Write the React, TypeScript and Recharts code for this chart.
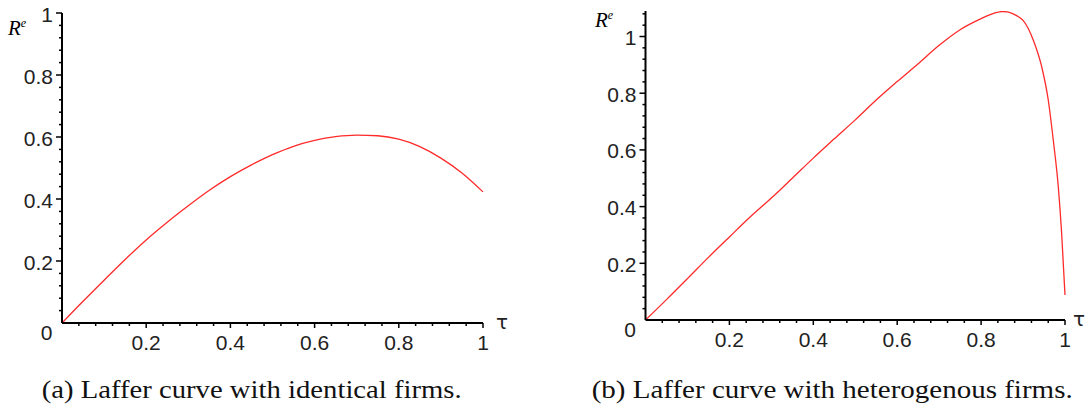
import React from "react";
import { LineChart, Line, XAxis, YAxis } from "recharts";

// ---- data ----
const tauA = [0, 0.05, 0.1, 0.15, 0.2, 0.25, 0.3, 0.35, 0.4, 0.45, 0.5, 0.55, 0.6, 0.65, 0.7, 0.75, 0.8, 0.85, 0.9, 0.95, 1];
const reA = [0, 0.07, 0.138, 0.205, 0.268, 0.325, 0.378, 0.428, 0.472, 0.51, 0.543, 0.57, 0.589, 0.601, 0.606, 0.604, 0.593, 0.569, 0.532, 0.484, 0.423];

const tauB = [0, 0.05, 0.1, 0.15, 0.2, 0.25, 0.3, 0.35, 0.4, 0.45, 0.5, 0.55, 0.6, 0.65, 0.7, 0.75, 0.8, 0.82, 0.835, 0.85, 0.862, 0.875, 0.89, 0.9, 0.925, 0.945, 0.96, 0.972, 0.984, 0.992, 1];
const reB = [0, 0.072, 0.146, 0.221, 0.293, 0.364, 0.43, 0.5, 0.571, 0.639, 0.706, 0.776, 0.841, 0.904, 0.969, 1.024, 1.063, 1.076, 1.084, 1.088, 1.087, 1.081, 1.069, 1.057, 0.985, 0.89, 0.777, 0.635, 0.47, 0.306, 0.088];

const xMajorTicks = [0.2, 0.4, 0.6, 0.8, 1];
const yMajorTicksA = [0.2, 0.4, 0.6, 0.8, 1];
const yMajorTicksB = [0.2, 0.4, 0.6, 0.8, 1];
const minorStep = 0.04;
const yMaxA = 1;
const yMaxB = 1.09;

const captionA = "(a) Laffer curve with identical firms.";
const captionB = "(b) Laffer curve with heterogenous firms.";
const yName = "R";
const ySup = "e";
const xName = "τ";
const originLabel = "0";

const dataA = tauA.map((t, i) => ({ tau: t, re: reA[i] }));
const dataB = tauB.map((t, i) => ({ tau: t, re: reB[i] }));

function buildTicks(max: number) {
  const n = Math.floor(max / minorStep + 1e-9);
  return Array.from({ length: n + 1 }, (_, i) => Math.round(i * minorStep * 1000) / 1000);
}

const isMajor = (v: number, majors: number[]) => majors.find((m) => Math.abs(m - v) < 1e-6);

const TICK_FONT = "'Liberation Sans', Arial, sans-serif";
const TICK_COLOR = "#222";
const TICK_SIZE = 21;

function makeXTick(majors: number[]) {
  return (props: any) => {
    const { x, y, payload } = props;
    const v = payload.value;
    const m = isMajor(v, majors);
    if (Math.abs(v) < 1e-9) {
      return (
        <text x={x - 15.5} y={y + 17} textAnchor="middle" fontFamily={TICK_FONT} fontSize={TICK_SIZE} fill={TICK_COLOR}>
          {originLabel}
        </text>
      );
    }
    return (
      <g>
        <line x1={x} y1={y} x2={x} y2={y + (m !== undefined ? 5 : 3)} stroke="#000" strokeWidth={1.5} />
        {m !== undefined && (
          <text x={x} y={y + 27} textAnchor="middle" fontFamily={TICK_FONT} fontSize={TICK_SIZE} fill={TICK_COLOR}>
            {String(m)}
          </text>
        )}
      </g>
    );
  };
}

function makeYTick(majors: number[]) {
  return (props: any) => {
    const { x, y, payload } = props;
    const v = payload.value;
    if (Math.abs(v) < 1e-9) return <g />;
    const m = isMajor(v, majors);
    return (
      <g>
        <line x1={x - (m !== undefined ? 6 : 3)} y1={y} x2={x} y2={y} stroke="#000" strokeWidth={1.5} />
        {m !== undefined && (
          <text x={x - 9} y={y + 8.5} textAnchor="end" fontFamily={TICK_FONT} fontSize={TICK_SIZE} fill={TICK_COLOR}>
            {String(m)}
          </text>
        )}
      </g>
    );
  };
}

function makeRLabel(dx: number, dy: number) {
  return (props: any) => {
    const vb = props.viewBox || {};
    const ax = (vb.x || 0) + (vb.width || 0);
    const ay = vb.y || 0;
    return (
      <text x={ax + dx} y={ay + dy} fontFamily="'Liberation Serif', 'Times New Roman', serif" fontStyle="italic" fontSize={21} fill="#000">
        {yName}
        <tspan fontSize={12} dy={-8}>{ySup}</tspan>
      </text>
    );
  };
}

function makeTauLabel(dx: number) {
  return (props: any) => {
    const vb = props.viewBox || {};
    const ax = (vb.x || 0) + (vb.width || 0);
    const ay = vb.y || 0;
    return (
      <text x={ax + dx} y={ay + 6} fontFamily="'DejaVu Sans', sans-serif" fontSize={20} fill={TICK_COLOR}>
        {xName}
      </text>
    );
  };
}

function Panel(props: {
  data: any[];
  width: number;
  height: number;
  margin: any;
  yMax: number;
  yMajors: number[];
  rdx: number;
  rdy: number;
  taudx: number;
}) {
  const { data, width, height, margin, yMax, yMajors, rdx, rdy, taudx } = props;
  return (
    <LineChart width={width} height={height} data={data} margin={margin}>
      <XAxis
        type="number"
        dataKey="tau"
        domain={[0, 1]}
        ticks={buildTicks(1)}
        interval={0}
        height={30}
        tickSize={0}
        tickMargin={0}
        tickLine={false}
        axisLine={{ stroke: "#000", strokeWidth: 2 }}
        tick={makeXTick(xMajorTicks)}
        allowDecimals
        label={{ content: makeTauLabel(taudx) }}
      />
      <YAxis
        type="number"
        domain={[0, yMax]}
        ticks={buildTicks(yMax)}
        interval={0}
        width={60}
        tickSize={0}
        tickMargin={0}
        tickLine={false}
        axisLine={{ stroke: "#000", strokeWidth: 2 }}
        tick={makeYTick(yMajors)}
        allowDataOverflow
        label={{ content: makeRLabel(rdx, rdy) }}
      />
      <Line
        type="monotone"
        dataKey="re"
        stroke="#ff2a2a"
        strokeWidth={1.3}
        dot={false}
        activeDot={false}
        isAnimationActive={false}
      />
    </LineChart>
  );
}

export default function App() {
  return (
    <div style={{ position: "absolute", left: 0, top: 0, width: 1085, height: 410, background: "#fff", overflow: "hidden" }}>
      <div style={{ position: "absolute", left: 0, top: 0 }}>
        <Panel
          data={dataA}
          width={540}
          height={360}
          margin={{ top: 13, right: 57, bottom: 7, left: 2 }}
          yMax={yMaxA}
          yMajors={yMajorTicksA}
          rdx={-54}
          rdy={22}
          taudx={13}
        />
      </div>
      <div style={{ position: "absolute", left: 540, top: 0 }}>
        <Panel
          data={dataB}
          width={545}
          height={360}
          margin={{ top: 11, right: 20, bottom: 10, left: 45.5 }}
          yMax={yMaxB}
          yMajors={yMajorTicksB}
          rdx={-50.5}
          rdy={16}
          taudx={8}
        />
      </div>
      <svg style={{ position: "absolute", left: 0, top: 0 }} width={1085} height={410}>
        <text x={41.7} y={398} fontFamily="'Liberation Serif', 'Times New Roman', serif" fontSize={25} fill="#111" textLength={420} lengthAdjust="spacingAndGlyphs">
          {captionA}
        </text>
        <text x={591.7} y={398} fontFamily="'Liberation Serif', 'Times New Roman', serif" fontSize={25} fill="#111" textLength={481} lengthAdjust="spacingAndGlyphs">
          {captionB}
        </text>
      </svg>
    </div>
  );
}
